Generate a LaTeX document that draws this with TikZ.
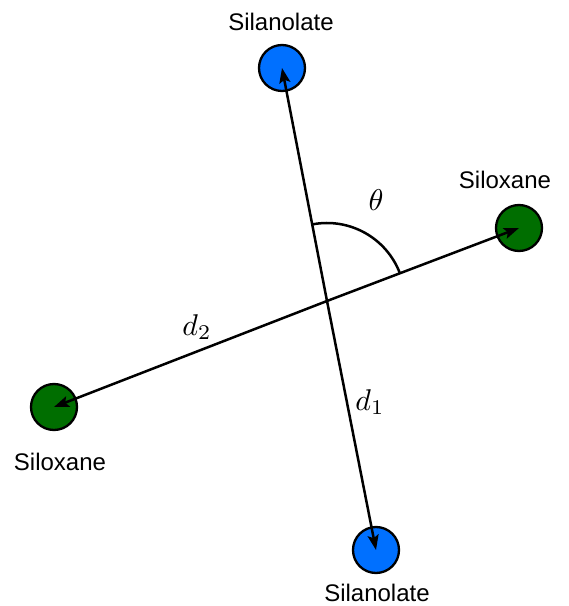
\documentclass[tikz,border=0pt]{standalone}
\usepackage{fontspec}
\setmainfont{Liberation Sans}
\usetikzlibrary{arrows.meta,calc}
\definecolor{siblue}{RGB}{0,112,255}
\definecolor{sigreen}{RGB}{0,110,0}
\begin{document}
\begin{tikzpicture}[x=1pt,y=1pt,
  atom/.style={circle,draw=black,line width=2.3pt,minimum size=46pt,inner sep=0pt},
  vec/.style={line width=2.5pt,-{Stealth[length=15pt,width=11pt,inset=3pt]}},
  lab/.style={font=\fontsize{24}{28}\selectfont,inner sep=0pt},
  mlab/.style={scale=3,inner sep=0pt}]
\useasboundingbox (0,0) rectangle (569,606);
\node[atom,fill=siblue] (top) at (282,538) {};
\node[atom,fill=siblue] (bot) at (376,56) {};
\node[atom,fill=sigreen] (left) at (54,199) {};
\node[atom,fill=sigreen] (right) at (519,378) {};
\coordinate (O) at (327,305);
\draw[vec] (O) -- (top.center);
\draw[vec] (O) -- (bot.center);
\draw[vec] (O) -- (left.center);
\draw[vec] (O) -- (right.center);
\draw[line width=2.5pt] ($(O)+(20.8:78)$) arc (20.8:100.9:78);
\node[lab] (ltop) at (281,584) {Silanolate};
\node[lab] (lbot) at (377,13) {Silanolate};
\node[lab] (lright) at (505,426) {Siloxane};
\node[lab] (lleft) at (60,144) {Siloxane};
\node[mlab] (th) at (376,406) {$\theta$};
\node[mlab] (d2) at (197,279) {$d_2$};
\node[mlab] (d1) at (370,204) {$d_1$};
\end{tikzpicture}
\end{document}
